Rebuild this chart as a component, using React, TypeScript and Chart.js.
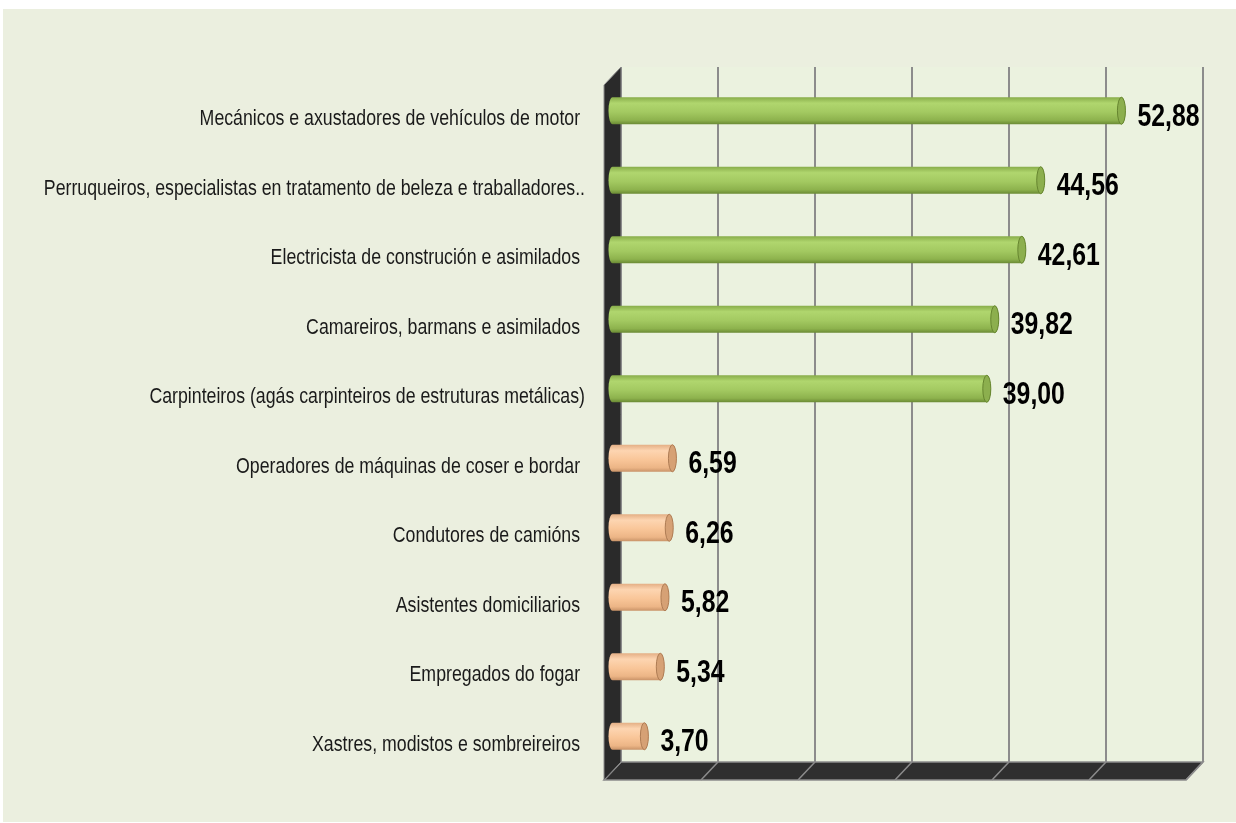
import { useEffect, useRef } from "react";
import { Chart, registerables } from "chart.js";

Chart.register(...registerables);

const categories = [
  "Mecánicos e axustadores de vehículos de motor ",
  "Perruqueiros, especialistas en tratamento de beleza e traballadores..",
  "Electricista de construción e asimilados ",
  "Camareiros, barmans e asimilados ",
  "Carpinteiros (agás carpinteiros de estruturas metálicas)",
  "Operadores de máquinas de coser e bordar ",
  "Condutores de camións ",
  "Asistentes domiciliarios ",
  "Empregados do fogar ",
  "Xastres, modistos e sombreireiros ",
];

const values = [52.88, 44.56, 42.61, 39.82, 39.0, 6.59, 6.26, 5.82, 5.34, 3.7];

const groups = ["high", "high", "high", "high", "high", "low", "low", "low", "low", "low"];

const axisMin = 0;
const axisMax = 60;
const axisStep = 10;

const W = 1236;
const H = 823;
const DEPTH_X = 17;
const DEPTH_Y = 18;
const LABEL_SX = 0.806;
const VALUE_SX = 0.775;

const palette: Record<string, { stops: [number, string][]; cap: string; capLine: string }> = {
  high: {
    stops: [
      [0, "#88AD4A"],
      [0.22, "#B0D66E"],
      [0.55, "#A3C961"],
      [0.85, "#8DB24D"],
      [1, "#6A8A34"],
    ],
    cap: "#8CAF4E",
    capLine: "#66852F",
  },
  low: {
    stops: [
      [0, "#E4AF85"],
      [0.22, "#FDD5B1"],
      [0.55, "#F9C699"],
      [0.85, "#ECB586"],
      [1, "#C99368"],
    ],
    cap: "#D6A175",
    capLine: "#AE7C54",
  },
};

const fmt = (v: number) => v.toFixed(2).replace(".", ",");

function drawCylinder(ctx: CanvasRenderingContext2D, x0: number, x1: number, yc: number, h: number, c: any) {
  const rx = 4;
  const ry = h / 2;
  const top = yc - ry;
  const g = ctx.createLinearGradient(0, top, 0, top + h);
  c.stops.forEach(([o, col]: [number, string]) => g.addColorStop(o, col));
  const xe = Math.max(x1 - rx, x0 + 1);
  ctx.save();
  ctx.beginPath();
  ctx.moveTo(x0, top);
  ctx.lineTo(xe, top);
  ctx.ellipse(xe, yc, rx, ry, 0, -Math.PI / 2, Math.PI / 2);
  ctx.lineTo(x0, top + h);
  ctx.ellipse(x0, yc, rx, ry, 0, Math.PI / 2, (3 * Math.PI) / 2);
  ctx.closePath();
  ctx.fillStyle = g;
  ctx.fill();
  ctx.beginPath();
  ctx.ellipse(xe, yc, rx, ry, 0, 0, Math.PI * 2);
  ctx.fillStyle = c.cap;
  ctx.fill();
  ctx.strokeStyle = c.capLine;
  ctx.lineWidth = 1;
  ctx.stroke();
  ctx.restore();
}

const framePlugin = {
  id: "frame3d",
  beforeDraw(chart: any) {
    const { ctx, chartArea: a, scales } = chart;
    const xs = scales.x;
    const ys = scales.y;
    ctx.save();
    // outer background
    ctx.fillStyle = "#EBEFDF";
    ctx.fillRect(3, 9, W - 3, H - 10);
    // back wall
    ctx.fillStyle = "#EBF2DF";
    ctx.fillRect(a.left + DEPTH_X, a.top - DEPTH_Y, a.right - a.left, a.bottom - a.top);
    // back wall gridlines
    const tickVals: number[] = [];
    for (let v = axisMin; v <= axisMax + 1e-9; v += axisStep) tickVals.push(v);
    ctx.strokeStyle = "#8C8C8C";
    ctx.lineWidth = 2;
    tickVals.forEach((v) => {
      const px = xs.getPixelForValue(v) + DEPTH_X;
      ctx.beginPath();
      ctx.moveTo(px, a.top - DEPTH_Y);
      ctx.lineTo(px, a.bottom - DEPTH_Y);
      ctx.stroke();
    });
    // floor
    const x0 = xs.getPixelForValue(axisMin);
    const x1 = xs.getPixelForValue(axisMax);
    ctx.beginPath();
    ctx.moveTo(x0, a.bottom);
    ctx.lineTo(x1, a.bottom);
    ctx.lineTo(x1 + DEPTH_X, a.bottom - DEPTH_Y);
    ctx.lineTo(x0 + DEPTH_X, a.bottom - DEPTH_Y);
    ctx.closePath();
    ctx.fillStyle = "#2F2F2F";
    ctx.fill();
    ctx.strokeStyle = "#8C8C8C";
    ctx.lineWidth = 1.5;
    ctx.stroke();
    tickVals.forEach((v) => {
      const px = xs.getPixelForValue(v);
      ctx.beginPath();
      ctx.moveTo(px, a.bottom);
      ctx.lineTo(px + DEPTH_X, a.bottom - DEPTH_Y);
      ctx.stroke();
    });
    // left wall
    ctx.beginPath();
    ctx.moveTo(x0, a.top);
    ctx.lineTo(x0 + DEPTH_X, a.top - DEPTH_Y);
    ctx.lineTo(x0 + DEPTH_X, a.bottom - DEPTH_Y);
    ctx.lineTo(x0, a.bottom);
    ctx.closePath();
    ctx.fillStyle = "#2A2A2A";
    ctx.fill();
    ctx.strokeStyle = "#8C8C8C";
    ctx.lineWidth = 1;
    ctx.stroke();
    // category labels (narrow)
    ctx.font = "22px 'Liberation Sans', Arial, sans-serif";
    ctx.fillStyle = "#1A1A1A";
    ctx.textAlign = "left";
    ctx.textBaseline = "middle";
    const rightEdge = a.left - 19;
    (chart.data.labels as string[]).forEach((lab, i) => {
      const y = ys.getPixelForValue(i) - 0.5;
      const w = ctx.measureText(lab).width * LABEL_SX;
      ctx.save();
      ctx.translate(rightEdge - w, y);
      ctx.scale(LABEL_SX, 1);
      ctx.fillText(lab, 0, 0);
      ctx.restore();
    });
    ctx.restore();
  },
  afterDatasetsDraw(chart: any) {
    const { ctx } = chart;
    const meta = chart.getDatasetMeta(0);
    const dx = DEPTH_X / 2;
    const dy = DEPTH_Y / 2;
    meta.data.forEach((bar: any, i: number) => {
      const c = palette[groups[i]];
      drawCylinder(ctx, bar.base + dx, bar.x + dx, bar.y - dy, bar.height, c);
    });
    ctx.save();
    ctx.font = "bold 32px 'Liberation Sans', Arial, sans-serif";
    ctx.fillStyle = "#000000";
    ctx.textAlign = "left";
    ctx.textBaseline = "alphabetic";
    meta.data.forEach((bar: any, i: number) => {
      ctx.save();
      ctx.translate(bar.x + dx + 12, bar.y + 6);
      ctx.scale(VALUE_SX, 1);
      ctx.fillText(fmt(values[i]), 0, 0);
      ctx.restore();
    });
    ctx.restore();
  },
};

export default function App() {
  const ref = useRef<HTMLCanvasElement | null>(null);
  useEffect(() => {
    if (!ref.current) return;
    const chart = new Chart(ref.current, {
      type: "bar",
      data: {
        labels: categories,
        datasets: [
          {
            data: values,
            backgroundColor: "rgba(0,0,0,0)",
            borderWidth: 0,
            barThickness: 27,
          },
        ],
      },
      options: {
        indexAxis: "y",
        animation: false,
        responsive: false,
        layout: { padding: { left: 604, right: 50, top: 85, bottom: 43 } },
        plugins: { legend: { display: false }, tooltip: { enabled: false } },
        scales: {
          x: { display: false, min: axisMin, max: axisMax, ticks: { stepSize: axisStep } },
          y: { display: false },
        },
      },
      plugins: [framePlugin],
    });
    return () => chart.destroy();
  }, []);
  return (
    <div style={{ position: "absolute", left: 0, top: 0, width: W, height: H }}>
      <canvas ref={ref} width={W} height={H} style={{ display: "block" }} />
    </div>
  );
}
